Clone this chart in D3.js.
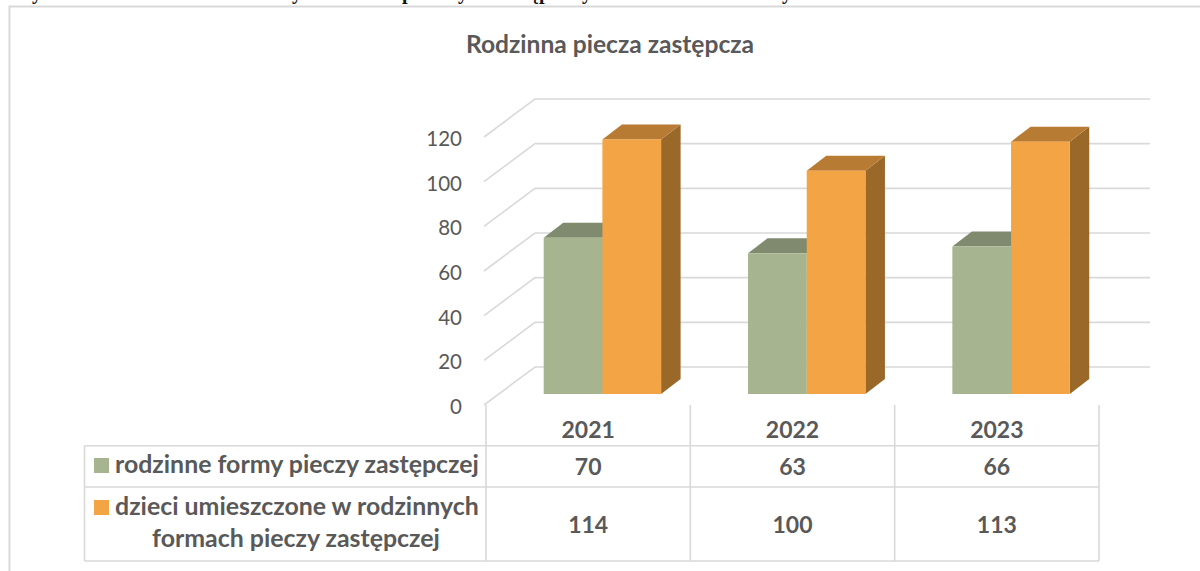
<!DOCTYPE html>
<html lang="pl">
<head>
<meta charset="utf-8">
<script src="https://cdn.jsdelivr.net/npm/d3@7/dist/d3.min.js"></script>
<style>
html,body{margin:0;padding:0;background:#fff;overflow:hidden}
svg{display:block}
text{font-family:Lato,"Open Sans",sans-serif;fill:#595959}
</style>
</head>
<body>
<svg id="chart" width="1200" height="571"></svg>
<script>
const title = "Rodzinna piecza zastępcza";
const categories = ["2021", "2022", "2023"];
const seriesNames = ["rodzinne formy pieczy zastępczej", "dzieci umieszczone w rodzinnych formach pieczy zastępczej"];
const fosterForms = [70, 63, 66];
const childrenPlaced = [114, 100, 113];
const yTicks = [0, 20, 40, 60, 80, 100, 120];
const clippedLine = ["y", "y", "p", "y", "ęp", "y", "y"];

const colors = {
  grid: "#d9d9d9",
  front: ["#a6b490", "#f3a445"],
  top: ["#7f8a6e", "#b87b33"],
  side: ["#6f7a5f", "#9a6829"]
};

const svg = d3.select("#chart");
const y = d3.scaleLinear().domain([0, 120]).range([405, 137]);
const x = d3.scaleBand().domain(categories).range([486, 1099]);
const inner = d3.scaleBand().domain([0, 1]).range([57.7, 175.1]);

const wallDx = 51, wallDy = -38, wallRight = 1150;
const barFloorDy = -11, barDx = 19.5, barDy = -15;

// Cut-off line of page text above the chart frame
const clippedX = [32, 292, 402, 458, 530, 582, 782];
svg.append("g").selectAll("text").data(clippedLine).join("text")
  .attr("x", (d, i) => clippedX[i]).attr("y", -1)
  .style("font-family", "'Liberation Serif'").style("font-weight", "700")
  .style("font-size", "20px").style("fill", "#111").text(d => d);

// Chart frame
svg.append("path").attr("d", "M9.5,571V6.5H1200").attr("fill", "none")
  .attr("stroke", colors.grid).attr("stroke-width", 2);

svg.append("text").attr("x", 610).attr("y", 53).attr("text-anchor", "middle")
  .style("font-size", "24.6px").style("font-weight", "700").text(title);

// 3D gridlines
svg.append("g").selectAll("path").data(yTicks).join("path")
  .attr("d", d => `M484,${y(d)}L${484 + wallDx},${y(d) + wallDy}H${wallRight}`)
  .attr("fill", "none").attr("stroke", colors.grid).attr("stroke-width", 1.6);

svg.append("g").selectAll("text").data(yTicks).join("text")
  .attr("x", 462).attr("y", d => y(d) + 9).attr("text-anchor", "end")
  .style("font-size", "20.5px").text(d => d);

// 3D bars
[fosterForms, childrenPlaced].forEach((values, s) => {
  const g = svg.append("g");
  values.forEach((v, i) => {
    const x0 = x(categories[i]) + inner(s), w = inner.bandwidth();
    const x1 = x0 + w;
    const yT = y(v) + barFloorDy, yB = y(0) + barFloorDy;
    g.append("path").attr("fill", colors.side[s])
      .attr("d", `M${x1},${yT}l${barDx},${barDy}V${yB + barDy}L${x1},${yB}Z`);
    g.append("path").attr("fill", colors.top[s])
      .attr("d", `M${x0},${yT}l${barDx},${barDy}H${x1 + barDx}L${x1},${yT}Z`);
    g.append("rect").attr("x", x0).attr("y", yT).attr("width", w).attr("height", yB - yT)
      .attr("fill", colors.front[s]);
  });
});

// Data table
const rowLines = [445.7, 487, 561], tableLeft = 84.5;
const table = svg.append("g").attr("stroke", colors.grid).attr("stroke-width", 1.6);
rowLines.forEach(r => table.append("line").attr("x1", tableLeft).attr("x2", 1099).attr("y1", r).attr("y2", r));
x.domain().concat(["end"]).forEach((c, i) => {
  const px = x.range()[0] + i * x.step();
  table.append("line").attr("x1", px).attr("x2", px).attr("y1", 405).attr("y2", 561);
});
table.append("line").attr("x1", tableLeft).attr("x2", tableLeft).attr("y1", rowLines[0]).attr("y2", 561);

const cell = (tx, ty, s, anchor, size) => svg.append("text").attr("x", tx).attr("y", ty)
  .attr("text-anchor", anchor).style("font-size", size).style("font-weight", "700").text(s);

categories.forEach((c, i) => {
  const cx = x(c) + x.bandwidth() / 2;
  cell(cx, 438, c, "middle", "23px");
  cell(cx, 474.5, fosterForms[i], "middle", "23px");
  cell(cx, 532.5, childrenPlaced[i], "middle", "23px");
});

svg.append("rect").attr("x", 94).attr("y", 458).attr("width", 15).attr("height", 15).attr("fill", colors.front[0]);
svg.append("rect").attr("x", 94).attr("y", 500).attr("width", 15).attr("height", 15).attr("fill", colors.front[1]);
cell(115, 473, seriesNames[0], "start", "24.9px");
cell(115, 515, "dzieci umieszczone w rodzinnych", "start", "24.9px");
cell(296, 547, "formach pieczy zastępczej", "middle", "24.9px");
</script>
</body>
</html>
